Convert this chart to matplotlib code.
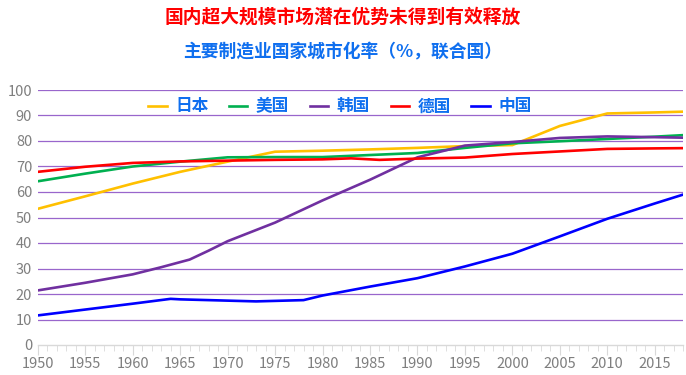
import matplotlib
matplotlib.use("Agg")
import matplotlib.pyplot as plt
from matplotlib.ticker import MultipleLocator

plt.rcParams['font.family'] = ['Noto Sans CJK SC', 'DejaVu Sans']

years_jp = [1950, 1955, 1960, 1965, 1970, 1975, 1980, 1985, 1990, 1995, 2000, 2005, 2010, 2015, 2018]
japan = [53.4, 58.3, 63.3, 67.9, 71.9, 75.8, 76.2, 76.7, 77.3, 78.0, 78.4, 85.9, 90.8, 91.2, 91.5]

years_us = [1950, 1955, 1960, 1965, 1970, 1975, 1980, 1985, 1990, 1995, 2000, 2005, 2010, 2015, 2018]
usa = [64.2, 67.2, 70.0, 71.9, 73.6, 73.7, 73.7, 74.5, 75.3, 77.3, 79.1, 79.9, 80.8, 81.7, 82.3]

years_kr = [1950, 1955, 1960, 1963, 1966, 1968, 1970, 1975, 1980, 1985, 1990, 1995, 2000, 2005, 2010, 2015, 2018]
korea = [21.4, 24.4, 27.7, 30.5, 33.5, 37.0, 40.7, 48.0, 56.7, 64.8, 73.6, 78.2, 79.6, 81.2, 81.8, 81.5, 81.3]

years_de = [1950, 1955, 1960, 1965, 1970, 1975, 1980, 1983, 1986, 1990, 1995, 2000, 2005, 2010, 2015, 2018]
germany = [67.9, 69.9, 71.4, 72.0, 72.3, 72.6, 72.8, 73.2, 72.6, 73.1, 73.5, 74.9, 75.9, 76.9, 77.1, 77.2]

years_cn = [1950, 1955, 1960, 1964, 1965, 1970, 1973, 1975, 1978, 1980, 1985, 1990, 1995, 2000, 2005, 2010, 2015, 2018]
china = [11.6, 13.9, 16.2, 18.1, 17.9, 17.4, 17.1, 17.3, 17.6, 19.4, 22.9, 26.2, 30.8, 35.8, 42.6, 49.5, 55.5, 59.0]

series = [
    ("日本", years_jp, japan, "#FFC000"),
    ("美国", years_us, usa, "#00B050"),
    ("韩国", years_kr, korea, "#7030A0"),
    ("德国", years_de, germany, "#FF0000"),
    ("中国", years_cn, china, "#0000FF"),
]

fig = plt.figure(figsize=(6.86, 3.75), dpi=100)
ax = fig.add_axes([0.055, 0.08, 0.941, 0.68])

for name, xs, ys, color in series:
    ax.plot(xs, ys, color=color, lw=1.9, label=name, zorder=3)

ax.set_xlim(1950, 2018)
ax.set_ylim(0, 100)
ax.xaxis.set_major_locator(MultipleLocator(5))
ax.xaxis.set_minor_locator(MultipleLocator(1))
ax.yaxis.set_major_locator(MultipleLocator(10))

for y in range(10, 101, 10):
    ax.axhline(y, color="#9966CC", lw=0.9, zorder=1)

for s in ["top", "right", "left"]:
    ax.spines[s].set_visible(False)
ax.spines["bottom"].set_color("#D9D9D9")
ax.spines["bottom"].set_linewidth(1.0)

ax.tick_params(axis="y", length=0, labelsize=10.5, labelcolor="#7F7F7F", pad=4)
ax.tick_params(axis="x", which="major", length=7, color="#D9D9D9", labelsize=10.5,
               labelcolor="#7F7F7F", pad=2)
ax.tick_params(axis="x", which="minor", length=4, color="#D9D9D9")

leg = ax.legend(loc="upper center", bbox_to_anchor=(0.468, 1.03), ncol=5, frameon=False,
                handlelength=1.1, handletextpad=0.5, columnspacing=1.25,
                prop={"weight": "bold", "size": 12})
for t in leg.get_texts():
    t.set_color("#0F6FEF")

fig.text(0.5, 0.955, "国内超大规模市场潜在优势未得到有效释放", ha="center", va="center",
         color="#FF0000", fontsize=13.5, fontweight="bold")
fig.text(0.5, 0.86, "主要制造业国家城市化率（%，联合国）", ha="center", va="center",
         color="#0F6FEF", fontsize=12.8, fontweight="bold")

fig.savefig("out.png", dpi=100)
